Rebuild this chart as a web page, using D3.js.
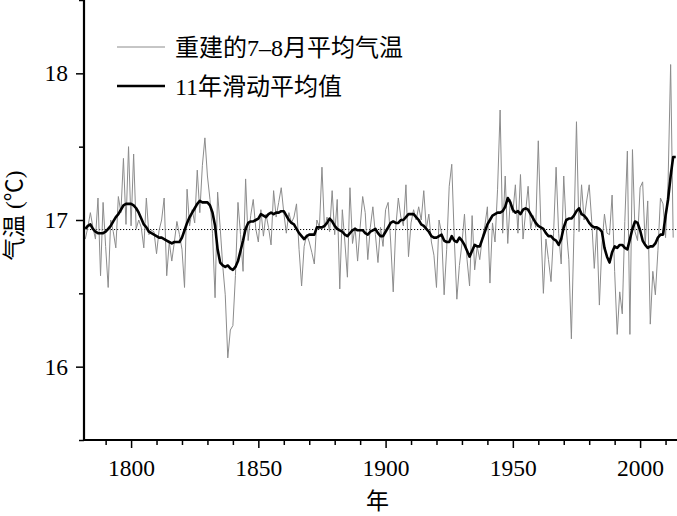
<!DOCTYPE html>
<html><head><meta charset="utf-8">
<script src="https://cdn.jsdelivr.net/npm/d3@7"></script>
<style>
html,body{margin:0;padding:0;background:#fff;}
svg{display:block;}
text{font-family:"Liberation Serif","Times New Roman","Noto Sans CJK SC",serif;fill:#000;}
.cjk{font-family:"Liberation Serif","Noto Sans CJK SC",serif;}
</style></head>
<body>
<svg id="chart" width="677" height="516"></svg>
<script>
const startYear = 1782;
const rawTemp = [
16.87,16.95,17.05,16.95,16.87,17.15,16.62,17.12,16.82,16.54,
17.00,16.92,16.81,17.16,17.05,17.42,16.97,17.50,16.96,17.45,
16.94,17.00,16.95,16.81,17.15,16.90,16.93,16.92,16.77,16.93,
17.00,17.15,16.62,16.85,16.72,16.85,16.99,16.90,16.80,16.54,
17.21,16.96,17.07,16.98,17.34,17.05,17.37,17.56,17.30,17.14,
16.91,16.47,17.19,16.95,16.69,16.49,16.06,16.25,16.28,16.62,
17.12,16.90,16.65,17.28,16.86,17.03,17.14,16.94,16.85,17.07,
16.89,17.04,16.95,16.83,17.20,17.02,17.12,17.22,17.05,16.91,
17.05,16.98,17.02,17.11,16.80,16.55,16.82,16.90,16.85,16.78,
16.70,17.00,16.95,17.36,16.94,17.02,16.92,17.20,16.90,17.14,
16.53,17.07,16.85,16.61,17.22,16.84,16.95,16.72,16.95,17.16,
17.05,16.73,16.95,17.09,16.90,16.71,16.95,16.82,17.07,17.12,
16.85,16.51,16.95,17.15,17.02,16.96,17.24,16.75,16.98,17.07,
17.00,17.09,17.00,17.20,16.94,17.04,16.85,16.76,16.54,17.00,
16.91,16.49,16.80,17.23,17.38,16.87,16.46,16.69,16.84,17.04,
16.73,16.55,17.03,16.66,16.82,16.73,16.88,16.96,17.09,16.57,
16.98,16.85,17.21,17.75,16.91,17.30,16.84,17.14,17.05,17.24,
16.91,17.31,16.87,17.05,17.23,16.94,17.03,16.95,17.54,16.96,
16.50,16.87,16.73,16.58,16.91,17.36,16.91,16.70,17.30,16.94,
16.73,16.19,16.91,17.67,16.92,17.24,17.00,17.13,17.24,16.99,
16.67,16.95,16.42,16.83,17.04,16.91,16.90,17.17,16.65,16.22,
16.51,16.36,16.99,17.47,16.22,17.48,16.92,16.86,17.22,17.26,
16.83,17.13,16.29,16.65,16.49,16.79,17.15,17.11,16.88,17.26,
18.06,16.88
];
const smoothTemp = [
16.94,16.96,16.97,16.94,16.92,16.91,16.91,16.91,16.92,16.94,
16.96,16.99,17.02,17.04,17.07,17.10,17.11,17.11,17.11,17.10,
17.08,17.05,17.01,16.97,16.95,16.92,16.91,16.90,16.89,16.88,
16.88,16.87,16.86,16.85,16.84,16.85,16.85,16.85,16.88,16.93,
16.98,17.02,17.05,17.08,17.11,17.13,17.12,17.12,17.12,17.10,
17.05,16.96,16.80,16.71,16.69,16.68,16.69,16.67,16.66,16.68,
16.72,16.79,16.86,16.94,16.98,16.99,16.99,17.00,17.01,17.04,
17.03,17.02,17.04,17.05,17.04,17.05,17.05,17.06,17.06,17.03,
17.00,16.98,16.97,16.94,16.91,16.89,16.87,16.89,16.90,16.90,
16.90,16.95,16.95,16.95,16.96,16.98,17.01,16.99,16.96,16.94,
16.93,16.92,16.90,16.89,16.91,16.93,16.94,16.93,16.93,16.93,
16.91,16.90,16.92,16.93,16.94,16.91,16.89,16.89,16.92,16.95,
16.98,16.99,16.98,16.98,17.00,17.00,17.02,17.04,17.04,17.04,
17.02,17.00,16.97,16.96,16.94,16.92,16.89,16.88,16.88,16.89,
16.90,16.86,16.85,16.85,16.89,16.86,16.85,16.88,16.86,16.83,
16.79,16.75,16.79,16.83,16.82,16.82,16.87,16.92,16.97,17.00,
17.03,17.04,17.05,17.05,17.06,17.09,17.15,17.12,17.07,17.05,
17.06,17.04,17.07,17.08,17.07,17.04,17.01,16.98,16.96,16.95,
16.94,16.91,16.89,16.89,16.87,16.86,16.83,16.87,16.95,17.00,
17.01,17.01,17.03,17.06,17.08,17.04,17.03,17.01,16.98,16.96,
16.95,16.95,16.94,16.92,16.81,16.75,16.71,16.78,16.82,16.81,
16.83,16.83,16.81,16.80,16.87,16.94,16.99,16.98,16.93,16.86,
16.83,16.81,16.82,16.82,16.84,16.88,16.90,16.90,17.03,17.14,
17.30,17.43,17.43
];
const meanTemp = 16.935;
const xMajorTicks = [1800, 1850, 1900, 1950, 2000];
const xMinorTicks = [1790, 1810, 1820, 1830, 1840, 1860, 1870, 1880, 1890, 1910, 1920, 1930, 1940, 1960, 1970, 1980, 1990, 2010];
const yMajorTicks = [16, 17, 18];
const yMinorTicks = [15.5, 16.5, 17.5, 18.5];
const legendLabels = ["重建的7–8月平均气温", "11年滑动平均值"];
const xTitle = "年";
const yTitle = "气温 (℃)";

const svg = d3.select("#chart");
const L = 84, R = 677, T = 0, B = 440;
const x = d3.scaleLinear().domain([1781.5, 2014.5]).range([L, R]);
const y = d3.scaleLinear().domain([15.5, 18.5]).range([B, T]);

const rawData = rawTemp.map((v, i) => ({year: startYear + i, v}));
const smoothData = smoothTemp.map((v, i) => ({year: startYear + i, v}));

// mean dotted line
svg.append("line")
  .attr("x1", L).attr("x2", R)
  .attr("y1", y(meanTemp)).attr("y2", y(meanTemp))
  .attr("stroke", "#000").attr("stroke-width", 1).attr("stroke-dasharray", "1.2,1.8");

const line = d3.line().x(d => x(d.year)).y(d => y(d.v));
svg.append("path").datum(rawData).attr("d", line)
  .attr("fill", "none").attr("stroke", "#8c8c8c").attr("stroke-width", 1);
svg.append("path").datum(smoothData).attr("d", line)
  .attr("fill", "none").attr("stroke", "#000").attr("stroke-width", 2.6)
  .attr("stroke-linejoin", "round");

// axes
const xAxis = svg.append("g").attr("transform", `translate(0,${B})`)
  .call(d3.axisBottom(x).tickValues(xMajorTicks).tickFormat(d3.format("d")).tickSize(8).tickPadding(11));
const xMinor = svg.append("g").attr("transform", `translate(0,${B})`)
  .call(d3.axisBottom(x).tickValues(xMinorTicks).tickFormat("").tickSize(5));
const yAxis = svg.append("g").attr("transform", `translate(${L},0)`)
  .call(d3.axisLeft(y).tickValues(yMajorTicks).tickFormat(d3.format("d")).tickSize(8).tickPadding(8));
const yMinor = svg.append("g").attr("transform", `translate(${L},0)`)
  .call(d3.axisLeft(y).tickValues(yMinorTicks).tickFormat("").tickSize(5));
[xAxis, xMinor, yAxis, yMinor].forEach(g => {
  g.select(".domain").remove();
  g.selectAll(".tick line").attr("stroke", "#000").attr("stroke-width", 1.5);
  g.selectAll("text").attr("font-size", 23.5).attr("font-family", "'Liberation Serif', serif").attr("fill", "#000");
});
svg.append("line").attr("x1", L).attr("x2", L).attr("y1", T).attr("y2", B + 1)
  .attr("stroke", "#000").attr("stroke-width", 2.2);
svg.append("line").attr("x1", L - 1).attr("x2", R).attr("y1", B).attr("y2", B)
  .attr("stroke", "#000").attr("stroke-width", 2.2);

// titles
svg.append("text").attr("class", "cjk").attr("x", (L + R) / 2 - 3).attr("y", 509)
  .attr("text-anchor", "middle").attr("font-size", 23).text(xTitle);
svg.append("text").attr("class", "cjk")
  .attr("transform", `translate(22,${y(17.03)}) rotate(-90)`)
  .attr("text-anchor", "middle").attr("font-size", 23).text(yTitle);

// legend
const leg = svg.append("g");
const legStyles = [{c: "#8c8c8c", w: 1}, {c: "#000", w: 2.6}];
legendLabels.forEach((lab, i) => {
  const ly = 47 + i * 39;
  leg.append("line").attr("x1", 117).attr("x2", 165).attr("y1", ly).attr("y2", ly)
    .attr("stroke", legStyles[i].c).attr("stroke-width", legStyles[i].w);
  leg.append("text").attr("class", "cjk").attr("x", 175).attr("y", ly + 9)
    .attr("font-size", 24).text(lab);
});
</script>
</body></html>
